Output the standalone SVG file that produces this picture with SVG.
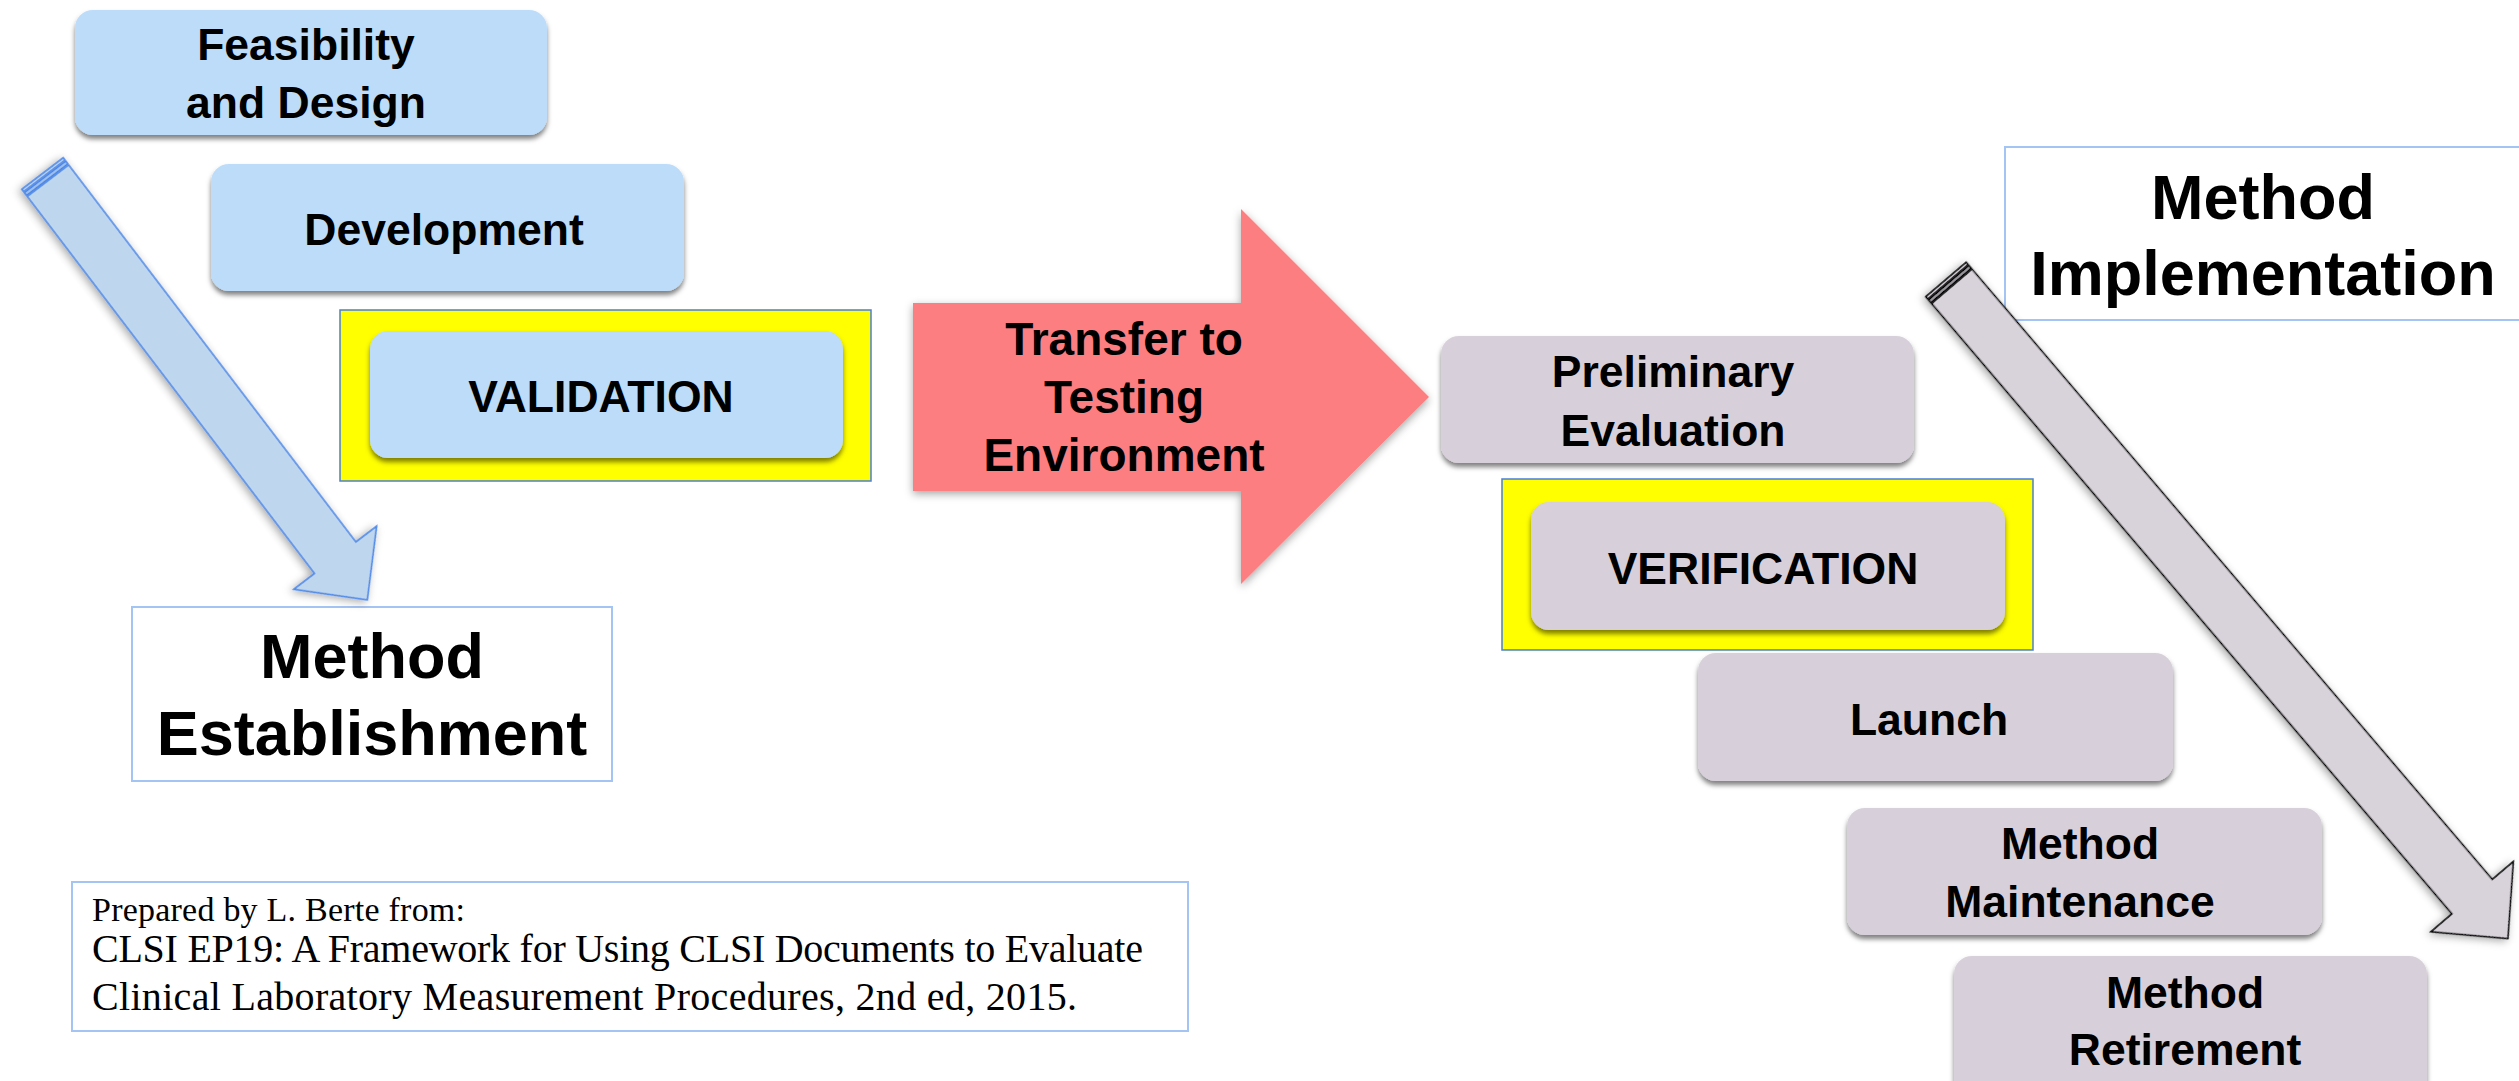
<svg xmlns="http://www.w3.org/2000/svg" width="2519" height="1081" viewBox="0 0 2519 1081">
  <defs>
    <style>
      .lbl { font-family: "Liberation Sans", Arial, sans-serif; font-weight: bold; font-size: 44.5px; fill: #000; text-anchor: middle; }
      .big { font-family: "Liberation Sans", Arial, sans-serif; font-weight: bold; font-size: 63px; fill: #000; text-anchor: middle; }
      .xfer { font-family: "Liberation Sans", Arial, sans-serif; font-weight: bold; font-size: 46px; fill: #000; text-anchor: middle; }
      .cite { font-family: "Liberation Serif", "Times New Roman", serif; fill: #000; }
      .blue { fill: #BCDCFA; }
      .grey { fill: #D7D0DA; }
      .hl { fill: #FFFF00; stroke: #4A7FD8; stroke-width: 1.5; }
      .frame { fill: #FFFFFF; stroke: #A4C4F4; stroke-width: 2; }
      .barrow { fill: #BFD7EE; stroke: #4A86E8; stroke-width: 1.6; stroke-linejoin: miter; }
      .garrow { fill: #D8D3DA; stroke: #000; stroke-width: 1.6; stroke-linejoin: miter; }
    </style>
    <filter id="sh" x="-10%" y="-10%" width="120%" height="130%">
      <feDropShadow dx="0" dy="4" stdDeviation="2.5" flood-color="#000" flood-opacity="0.5"/>
    </filter>
    <filter id="ash" x="-20%" y="-20%" width="140%" height="140%">
      <feDropShadow dx="0" dy="3" stdDeviation="4" flood-color="#000" flood-opacity="0.35"/>
    </filter>
  </defs>
  <rect width="2519" height="1081" fill="#FFFFFF"/>

  <g id="feasibility">
    <rect class="blue" x="75" y="10" width="472" height="125" rx="18" filter="url(#sh)"/>
    <text class="lbl" x="306" y="60">Feasibility</text>
    <text class="lbl" x="306" y="118">and Design</text>
  </g>

  <g id="development">
    <rect class="blue" x="211" y="164" width="473" height="127" rx="18" filter="url(#sh)"/>
    <text class="lbl" x="444" y="245">Development</text>
  </g>

  <g id="validation">
    <rect class="hl" x="340" y="310" width="531" height="171"/>
    <rect class="blue" x="370" y="331" width="473" height="127" rx="18" filter="url(#sh)"/>
    <text class="lbl" x="601" y="412">VALIDATION</text>
  </g>

  <g id="method-establishment">
    <rect class="frame" x="132" y="607" width="480" height="174"/>
    <text class="big" x="372" y="678">Method</text>
    <text class="big" x="372" y="755">Establishment</text>
  </g>

  <g id="citation">
    <rect class="frame" x="72" y="882" width="1116" height="149"/>
    <text class="cite" x="92" y="921" font-size="34" textLength="373">Prepared by L. Berte from:</text>
    <text class="cite" x="92" y="962" font-size="40" textLength="1051">CLSI EP19: A Framework for Using CLSI Documents to Evaluate</text>
    <text class="cite" x="92" y="1010" font-size="40" textLength="985">Clinical Laboratory Measurement Procedures, 2nd ed, 2015.</text>
  </g>

  <g id="transfer">
    <polygon points="913,303 1241,303 1241,209 1429,397 1241,584 1241,491 913,491" fill="#FD7E80" filter="url(#ash)"/>
    <text class="xfer" x="1124" y="355">Transfer to</text>
    <text class="xfer" x="1124" y="413">Testing</text>
    <text class="xfer" x="1124" y="471">Environment</text>
  </g>

  <g id="preliminary">
    <rect class="grey" x="1441" y="336" width="473" height="127" rx="18" filter="url(#sh)"/>
    <text class="lbl" x="1673" y="387">Preliminary</text>
    <text class="lbl" x="1673" y="446">Evaluation</text>
  </g>

  <g id="verification">
    <rect class="hl" x="1502" y="479" width="531" height="171"/>
    <rect class="grey" x="1531" y="502" width="474" height="128" rx="18" filter="url(#sh)"/>
    <text class="lbl" x="1763" y="584">VERIFICATION</text>
  </g>

  <g id="launch">
    <rect class="grey" x="1698" y="653" width="475" height="128" rx="18" filter="url(#sh)"/>
    <text class="lbl" x="1929" y="735">Launch</text>
  </g>

  <g id="maintenance">
    <rect class="grey" x="1847" y="808" width="475" height="127" rx="18" filter="url(#sh)"/>
    <text class="lbl" x="2080" y="859">Method</text>
    <text class="lbl" x="2080" y="917">Maintenance</text>
  </g>

  <g id="retirement">
    <rect class="grey" x="1954" y="956" width="473" height="150" rx="18" filter="url(#sh)"/>
    <text class="lbl" x="2185" y="1008">Method</text>
    <text class="lbl" x="2185" y="1065">Retirement</text>
  </g>

  <g id="method-implementation">
    <rect class="frame" x="2005" y="147" width="530" height="173"/>
    <text class="big" x="2263" y="219">Method</text>
    <text class="big" x="2263" y="295">Implementation</text>
  </g>

  <g id="connectors">
    <g id="establishment-arrow" transform="translate(42.5,173.5) rotate(52.7)" filter="url(#ash)">
      <rect class="barrow" x="0" y="-26" width="3" height="52"/>
      <rect class="barrow" x="4.5" y="-26" width="3" height="52"/>
      <polygon class="barrow" points="9,-26 483,-26 483,-52 536,0 483,52 483,26 9,26"/>
    </g>
    <g id="implementation-arrow" transform="translate(1946,279.5) rotate(49.55)" filter="url(#ash)">
      <rect class="garrow" x="0" y="-26.5" width="3" height="53"/>
      <rect class="garrow" x="4.5" y="-26.5" width="3" height="53"/>
      <polygon class="garrow" points="9,-26.5 811,-26.5 811,-54 866,0 811,54 811,26.5 9,26.5"/>
    </g>
  </g>
</svg>
